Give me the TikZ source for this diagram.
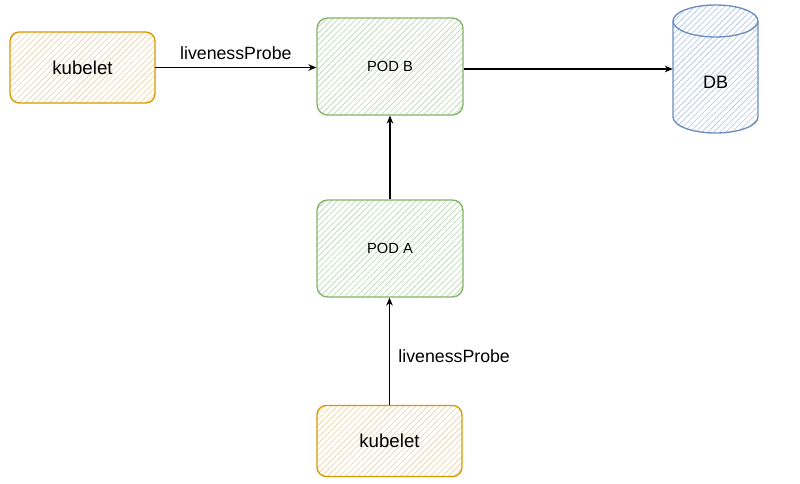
\documentclass[tikz,border=0pt]{standalone}
\usepackage{fontspec}
\setmainfont{Liberation Sans}
\usetikzlibrary{arrows.meta,patterns.meta,positioning}
\definecolor{orfill}{HTML}{FFE6CC}
\definecolor{ordraw}{HTML}{D79B00}
\definecolor{grfill}{HTML}{D5E8D4}
\definecolor{grdraw}{HTML}{82B366}
\definecolor{blfill}{HTML}{DAE8FC}
\definecolor{bldraw}{HTML}{6C8EBF}
\begin{document}
\begin{tikzpicture}[x=0.75pt,y=-0.75pt,
  hatch/.style={pattern={Lines[angle=45,distance=3.2pt,line width=0.6pt]}},
  kbox/.style={draw=ordraw,line width=1pt,rounded corners=7pt,hatch,pattern color=orfill!70!ordraw!80,
    minimum width=108.75pt,minimum height=53.25pt,font=\fontsize{14}{16}\selectfont},
  podbox/.style={draw=grdraw,line width=1pt,rounded corners=8pt,hatch,pattern color=grfill!80!grdraw,
    minimum width=109.5pt,minimum height=72.75pt,font=\fontsize{11}{13}\selectfont},
  conn/.style={draw=black,line width=0.8pt,-{Stealth[length=6pt,width=5pt]}},
  lbl/.style={font=\fontsize{13.3}{15}\selectfont}]
\useasboundingbox (0,0) rectangle (800,484);
\fill[white] (0,0) rectangle (800,484);
\node[kbox] (k1) at (82.5,67.5) {kubelet};
\node[podbox] (pb) at (390,66.5) {POD B};
\node[podbox] (pa) at (390,248.5) {POD A};
\node[kbox] (k2) at (389.5,441) {kubelet};
% DB cylinder
\node[minimum width=63.75pt,minimum height=96pt,inner sep=0pt] (db) at (715.5,69) {};
\path[draw=bldraw,line width=1pt,hatch,pattern color=blfill!70!bldraw]
  (673,21) -- (673,117) arc[start angle=180,end angle=0,x radius=42.5,y radius=16]
  -- (758,21) arc[start angle=0,end angle=-180,x radius=42.5,y radius=16] -- cycle;
\draw[bldraw,line width=1pt] (673,21) arc[start angle=180,end angle=0,x radius=42.5,y radius=16];
\node[font=\fontsize{13.5}{15}\selectfont] (dbt) at (715.5,82) {DB};
% connectors
\draw[conn] (k1.east) -- node[lbl,above=2pt] {livenessProbe} (k1.east -| pb.west);
\draw[conn] (pb.east |- 0,69) -- (db.west);
\draw[conn] (pa.north) -- (pb.south);
\draw[conn] (k2.north) -- node[lbl,right=3pt,pos=0.45] {livenessProbe} (k2.north |- pa.south);
\end{tikzpicture}
\end{document}
